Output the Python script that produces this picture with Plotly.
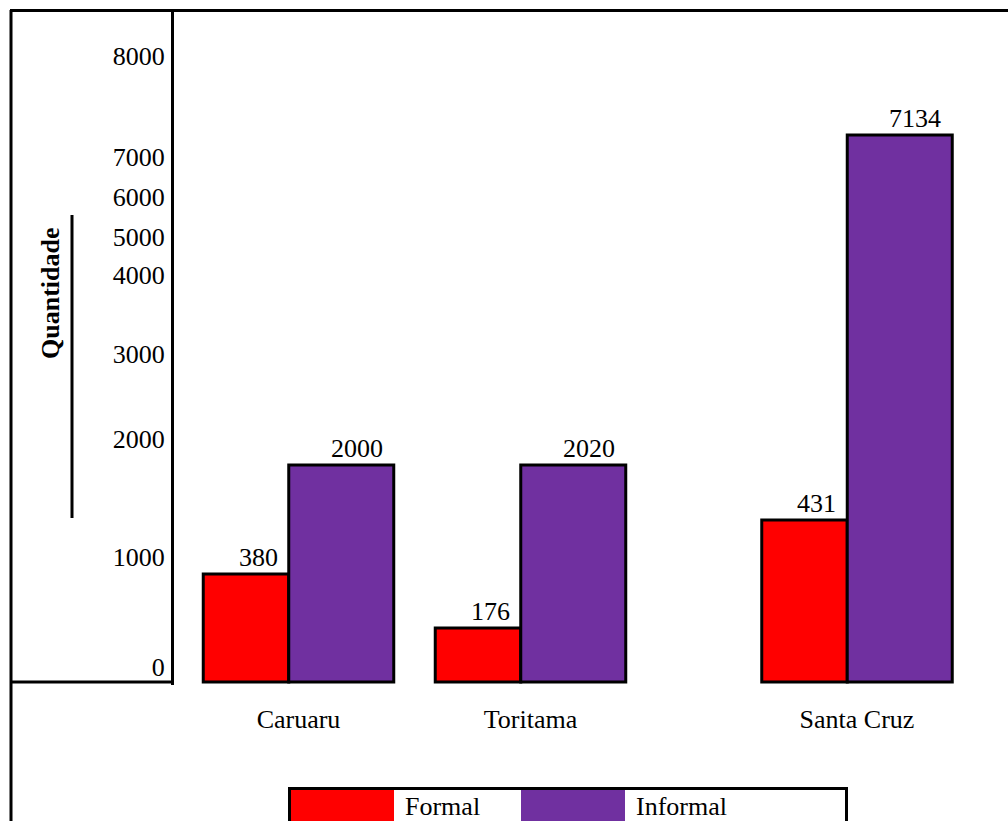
import plotly.graph_objects as go

# ---------------- data ----------------
cities = ["Caruaru", "Toritama", "Santa Cruz"]
formal_values = [380, 176, 431]
informal_values = [2000, 2020, 7134]
# bar heights as drawn in the picture (axis units above the baseline)
formal_heights = [108, 54, 162]
informal_heights = [217, 217, 547]
y_tick_labels = ["0", "1000", "2000", "3000", "4000", "5000", "6000", "7000", "8000"]

# ---------------- layout constants ----------------
W, H = 1008, 821
PL, PT, PB = 174, 10, 685          # plot area left / top / bottom in page px
Y0 = 682                            # page px of the bar baseline
y_tick_pos = [15, 125, 243.5, 328, 407, 445.5, 485.5, 525, 626]
group_centers = [298.5, 530.5, 857]
FW, IW = 85.5, 105                  # bar widths (px)
F_OFF = -(FW + IW) / 2
I_OFF = F_OFF + FW
FONT = "Liberation Serif, Times New Roman, serif"
RED = "#FF0000"
PURPLE = "#7030A0"


def px_x(px):
    return (px - PL) / (W - PL)


def px_y(py):
    return (PB - py) / (PB - PT)


fig = go.Figure()
fig.add_trace(go.Bar(
    name="Formal", x=group_centers, y=formal_heights, width=FW, offset=F_OFF,
    marker=dict(color=RED, line=dict(color="black", width=3)),
    customdata=formal_values, hovertemplate="%{customdata}<extra>Formal</extra>",
    showlegend=False,
))
fig.add_trace(go.Bar(
    name="Informal", x=group_centers, y=informal_heights, width=IW, offset=I_OFF,
    marker=dict(color=PURPLE, line=dict(color="black", width=3)),
    customdata=informal_values, hovertemplate="%{customdata}<extra>Informal</extra>",
    showlegend=False,
))

annotations = []
for c, h, v in zip(group_centers, formal_heights, formal_values):
    annotations.append(dict(x=c + F_OFF + FW - 9, y=h, xref="x", yref="y",
                            text=str(v), showarrow=False, xanchor="right",
                            yanchor="bottom", font=dict(family=FONT, size=26, color="black")))
for c, h, v in zip(group_centers, informal_heights, informal_values):
    annotations.append(dict(x=c + I_OFF + IW - 9, y=h, xref="x", yref="y",
                            text=str(v), showarrow=False, xanchor="right",
                            yanchor="bottom", font=dict(family=FONT, size=26, color="black")))

# axis title
annotations.append(dict(x=px_x(50), y=px_y(293), xref="paper", yref="paper",
                        text="<b>Quantidade</b>", textangle=-90, showarrow=False,
                        xanchor="center", yanchor="middle",
                        font=dict(family=FONT, size=26, color="black")))

# legend texts
annotations.append(dict(x=px_x(403), y=px_y(806), xref="paper", yref="paper",
                        text="Formal", showarrow=False, xanchor="left", yanchor="middle",
                        font=dict(family=FONT, size=26, color="black")))
annotations.append(dict(x=px_x(634), y=px_y(806), xref="paper", yref="paper",
                        text="Informal", showarrow=False, xanchor="left", yanchor="middle",
                        font=dict(family=FONT, size=26, color="black")))

line = dict(color="black", width=3)
shapes = [
    # outer frame: left and top
    dict(type="line", xref="paper", yref="paper", x0=px_x(11), x1=px_x(11),
         y0=px_y(10), y1=px_y(830), line=line),
    dict(type="line", xref="paper", yref="paper", x0=px_x(10), x1=px_x(1010),
         y0=px_y(10.5), y1=px_y(10.5), line=line),
    # short baseline left of axis
    dict(type="line", xref="paper", yref="paper", x0=px_x(10), x1=px_x(174),
         y0=px_y(Y0), y1=px_y(Y0), line=line),
    # line next to axis title
    dict(type="line", xref="paper", yref="paper", x0=px_x(72), x1=px_x(72),
         y0=px_y(215), y1=px_y(518), line=line),
    # legend box and swatches
    dict(type="rect", xref="paper", yref="paper", x0=px_x(289.5), x1=px_x(846.5),
         y0=px_y(788.5), y1=px_y(840), line=line, fillcolor="white", layer="below"),
    dict(type="rect", xref="paper", yref="paper", x0=px_x(291), x1=px_x(394),
         y0=px_y(790), y1=px_y(840), line=dict(width=0), fillcolor=RED),
    dict(type="rect", xref="paper", yref="paper", x0=px_x(521), x1=px_x(625),
         y0=px_y(790), y1=px_y(840), line=dict(width=0), fillcolor=PURPLE),
]

fig.update_layout(
    width=W, height=H,
    margin=dict(l=PL, r=0, t=PT, b=H - PB, pad=0),
    paper_bgcolor="white", plot_bgcolor="white",
    barmode="overlay", showlegend=False,
    font=dict(family=FONT, size=26, color="black"),
    annotations=annotations, shapes=shapes,
    xaxis=dict(range=[PL, W], showgrid=False, zeroline=False, showline=False,
               tickmode="array", tickvals=group_centers, ticktext=cities,
               ticks="", ticklabelstandoff=16,
               tickfont=dict(family=FONT, size=26, color="black"), fixedrange=True),
    yaxis=dict(range=[Y0 - PB, Y0 - PT], showgrid=False, zeroline=False,
               showline=True, linewidth=3, linecolor="black",
               tickmode="array", tickvals=y_tick_pos, ticktext=y_tick_labels,
               ticks="", ticklabelstandoff=1,
               tickfont=dict(family=FONT, size=26, color="black"), fixedrange=True),
)

fig.write_html("out.html", config={"displayModeBar": False})
